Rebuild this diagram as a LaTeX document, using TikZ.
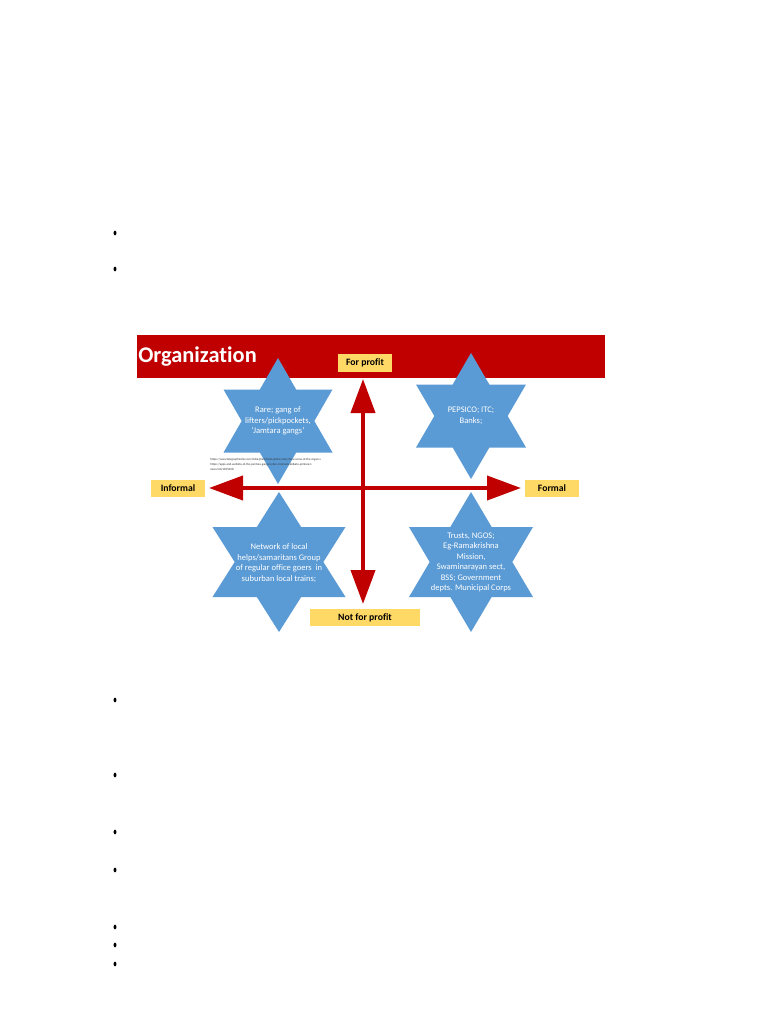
\documentclass[tikz,border=0pt]{standalone}
\usepackage{fontspec}
\setmainfont{Carlito}[Ligatures=CommonOff]
\usetikzlibrary{arrows.meta}
\definecolor{banred}{HTML}{C00000}
\definecolor{arrred}{HTML}{C00000}
\definecolor{lblyel}{HTML}{FFD966}
\definecolor{starblue}{HTML}{5B9BD5}
\tikzset{
  lbl/.style={fill=lblyel, font=\bfseries\fontsize{7.3}{9}\selectfont, inner sep=0pt, minimum height=13pt},
  startext/.style={text=white, font=\fontsize{6.4}{7.9}\selectfont, align=center, inner sep=0pt},
  bigarrow/.style={draw=arrred, line width=3pt, {Triangle[length=25.5pt,width=18pt]}-{Triangle[length=25.5pt,width=18pt]}},
  bulletdot/.style={fill=black}
}
\newcommand\hexstar[4]{\fill[starblue,shift={(#1,#2)}] (0,-#4) -- ({#3/3},{-#4/2}) -- (#3,{-#4/2}) -- ({2*#3/3},0) -- (#3,{#4/2}) -- ({#3/3},{#4/2}) -- (0,#4) -- ({-#3/3},{#4/2}) -- (-#3,{#4/2}) -- ({-2*#3/3},0) -- (-#3,{-#4/2}) -- ({-#3/3},{-#4/2}) -- cycle;}
\begin{document}
\begin{tikzpicture}[x=0.75pt,y=-0.75pt]
\useasboundingbox[fill=white] (0,0) rectangle (768,1024);
% bullets
\foreach \by in {233,269,700,775,832,870,927,945,964}{
  \fill[bulletdot] (115,\by) ellipse [x radius=1.1pt, y radius=1.8pt];
}
% banner
\fill[banred] (137,335) rectangle (605,378);
\node[anchor=west, text=white, font=\bfseries\fontsize{16.8}{20}\selectfont, inner sep=0pt] (title) at (138,357) {Organization};
% stars
\hexstar{278}{421}{54.5}{63}
\hexstar{471}{416}{55}{63}
\hexstar{279}{562}{66.5}{70}
\hexstar{471}{562}{62}{70}
% arrows
\coordinate (vtop) at (363,379);
\coordinate (vbot) at (363,604);
\coordinate (hleft) at (209,488);
\coordinate (hright) at (521,488);
\draw[bigarrow] (vtop) -- (vbot);
\draw[bigarrow] (hleft) -- (hright);
% labels
\node[lbl, minimum width=40.5pt] (forprofit) at (365,363) {For profit};
\node[lbl, minimum width=40.5pt] (informal) at (178,488.5) {Informal};
\node[lbl, minimum width=40.5pt] (formal) at (552,488.5) {Formal};
\node[lbl, minimum width=82.5pt] (notprofit) at (365,617.5) {Not for profit};
% star texts
\node[startext] (tltext) at (278,421) {Rare; gang of\\lifters/pickpockets,\\`Jamtara gangs'};
\node[startext] (trtext) at (471,416) {PEPSICO; ITC;\\Banks;};
\node[startext] (bltext) at (279,563) {Network of local\\helps/samaritans Group\\of regular office goers\ \ in\\suburban local trains;};
\node[startext] (brtext) at (471,562.5) {Trusts, NGOS;\\Eg-Ramakrishna\\Mission,\\Swaminarayan sect,\\BSS; Government\\depts. Municipal Corps};
% tiny url
\node[anchor=north west, inner sep=0pt, text=black!80, font=\fontsize{2.3}{3.6}\selectfont, align=left] (url) at (210,458) {https://www.telegraphindia.com/india/jharkhand-police/story/how-some-of-the-organ-s\\https://apps-and-website-of-the-jamtara-gangs/cyber-criminals-kolkata-jamtara/s\\news/cid/1815228};
\end{tikzpicture}
\end{document}
